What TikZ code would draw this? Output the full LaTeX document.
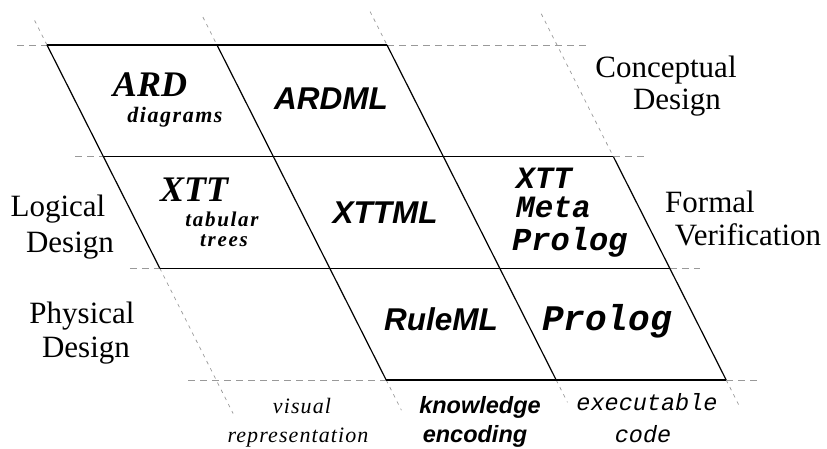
\documentclass[tikz,border=0pt]{standalone}
\usepackage{fontspec}
\setmainfont{Liberation Serif}
\newfontfamily\hsans{Liberation Sans}
\newfontfamily\cour{Liberation Mono}
\usetikzlibrary{calc}
\begin{document}
\begin{tikzpicture}[x=1pt,y=-1pt,
  solidline/.style={line width=1.2pt,black},
  dashline/.style={line width=0.7pt,gray!80,dash pattern=on 7pt off 5pt},
  slantdash/.style={line width=0.7pt,gray!80,dash pattern=on 3.5pt off 4.5pt},
  lbl/.style={anchor=base,inner sep=0pt,align=center},
  serif/.style={lbl,font=\fontsize{31}{32}\selectfont},
  sansbi/.style={lbl,font=\hsans\bfseries\itshape\fontsize{31.5}{32}\selectfont},
  monobi/.style={lbl,font=\cour\bfseries\itshape\fontsize{31}{32}\selectfont},
]
\useasboundingbox (0,0) rectangle (827,449);
% grid points: rows 0..3, columns a..d
\coordinate (a0) at (47,45);     \coordinate (b0) at (217,45);
\coordinate (c0) at (387,45);    \coordinate (d0) at (557,45);
\coordinate (a1) at (103.4,156.7); \coordinate (b1) at (273.4,156.7);
\coordinate (c1) at (443.4,156.7); \coordinate (d1) at (613.4,156.7);
\coordinate (a2) at (159.8,268.3); \coordinate (b2) at (329.8,268.3);
\coordinate (c2) at (499.8,268.3); \coordinate (d2) at (669.8,268.3);
\coordinate (a3) at (216.2,380);   \coordinate (b3) at (386.2,380);
\coordinate (c3) at (556.2,380);   \coordinate (d3) at (726.2,380);
% dashed extensions
\draw[dashline] ($(a0)+(-30,0)$) -- (a0);
\draw[dashline] (c0) -- ($(d0)+(30,0)$);
\draw[dashline] ($(a1)+(-28,0)$) -- (a1);
\draw[dashline] (d1) -- ($(d1)+(32,0)$);
\draw[dashline] ($(a2)+(-30,0)$) -- (a2);
\draw[dashline] (d2) -- ($(d2)+(30,0)$);
\draw[dashline] ($(a3)+(-28,0)$) -- (b3);
\draw[dashline] (d3) -- ($(d3)+(31,0)$);
\draw[slantdash] ($(a0)!-0.22!(a1)$) -- (a0);
\draw[slantdash] ($(b0)!-0.25!(b1)$) -- (b0);
\draw[slantdash] ($(c0)!-0.3!(c1)$) -- (c0);
\draw[slantdash] ($(d0)!-0.28!(d1)$) -- (d1);
\draw[slantdash] (a2) -- ($(a3)!-0.3!(a2)$);
\draw[slantdash] (b3) -- ($(b3)!-0.27!(b2)$);
\draw[slantdash] (c3) -- ($(c3)!-0.2!(c2)$);
\draw[slantdash] (d3) -- ($(d3)!-0.22!(d2)$);
% solid grid
\draw[solidline] (a0) -- (c0);
\draw[solidline,line width=1.6pt] (a1) -- (d1);
\draw[solidline] (a2) -- (d2);
\draw[solidline] (b3) -- (d3);
\draw[solidline] (a0) -- (a2);
\draw[solidline] (b0) -- (b3);
\draw[solidline] (c0) -- (c3);
\draw[solidline] (d1) -- (d3);
% cell texts
\node[lbl,font=\bfseries\itshape\fontsize{36}{37}\selectfont] (ard) at (150,97) {ARD};
\node[lbl,font=\bfseries\itshape\fontsize{22}{23}\selectfont\addfontfeature{LetterSpace=7}] (diag) at (175,123) {diagrams};
\node[sansbi] (ardml) at (331,110) {ARDML};
\node[lbl,font=\bfseries\itshape\fontsize{36}{37}\selectfont] (xtt) at (194,201) {XTT};
\node[lbl,font=\bfseries\itshape\fontsize{21}{22}\selectfont\addfontfeature{LetterSpace=8}] (tab) at (222,226) {tabular};
\node[lbl,font=\bfseries\itshape\fontsize{21}{22}\selectfont\addfontfeature{LetterSpace=8}] (trees) at (224,247) {trees};
\node[sansbi] (xttml) at (385,223) {XTTML};
\node[monobi,anchor=base west] (mxtt) at (516,189) {XTT};
\node[monobi,anchor=base west] (meta) at (516,218) {Meta};
\node[monobi,anchor=base west,font=\cour\bfseries\itshape\fontsize{32}{33}\selectfont] (mprolog) at (512,250) {Prolog};
\node[sansbi] (ruleml) at (441,330) {RuleML};
\node[monobi,font=\cour\bfseries\itshape\fontsize{36}{37}\selectfont] (prolog) at (607,330) {Prolog};
% side labels
\node[serif] (concept) at (666,78) {Conceptual};
\node[serif] (cdesign) at (677,110) {Design};
\node[serif] (logical) at (58,217) {Logical};
\node[serif] (ldesign) at (70,252) {Design};
\node[serif] (formal) at (710,212) {Formal};
\node[serif] (verif) at (748,245) {Verification};
\node[serif] (physical) at (82,323) {Physical};
\node[serif] (pdesign) at (86,357) {Design};
% bottom labels
\node[lbl,font=\itshape\fontsize{22}{23}\selectfont\addfontfeature{LetterSpace=5}] (visual) at (302,413) {visual};
\node[lbl,font=\itshape\fontsize{22}{23}\selectfont\addfontfeature{LetterSpace=5}] (repr) at (298,442) {representation};
\node[lbl,font=\hsans\bfseries\itshape\fontsize{23.5}{24}\selectfont] (know) at (480,413) {knowledge};
\node[lbl,font=\hsans\bfseries\itshape\fontsize{23.5}{24}\selectfont] (enc) at (475,442) {encoding};
\node[lbl,font=\cour\itshape\fontsize{23.5}{24}\selectfont] (exec) at (647,410) {executable};
\node[lbl,font=\cour\itshape\fontsize{23.5}{24}\selectfont] (code) at (643,442) {code};
\end{tikzpicture}
\end{document}
